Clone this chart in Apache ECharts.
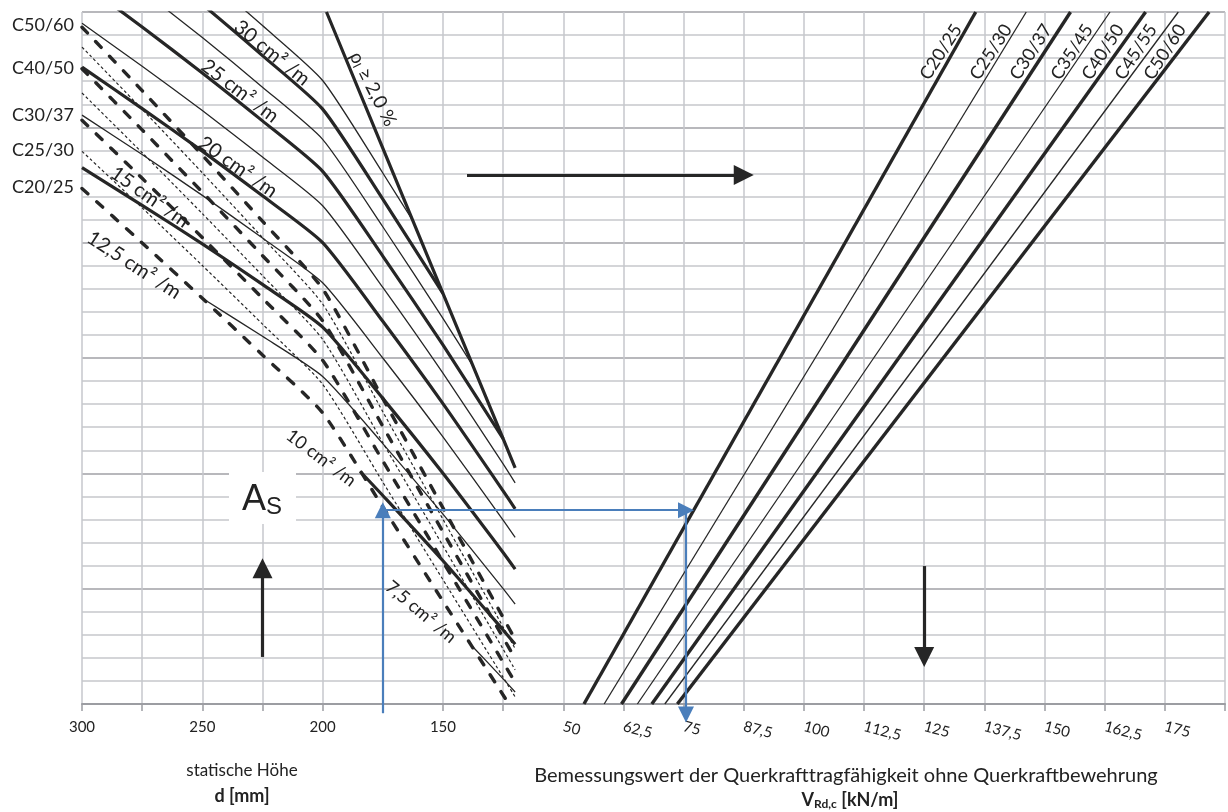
<!DOCTYPE html>
<html><head><meta charset="utf-8">
<script src="https://cdn.jsdelivr.net/npm/echarts@6/dist/echarts.min.js"></script>
<style>html,body{margin:0;padding:0;background:#fff}#c{width:1228px;height:812px}</style>
</head><body><div id="c"></div>
<script>
// ---------- DATA ----------
// left quadrant x: statische Höhe d [mm]; right quadrant x: V_Rd,c [kN/m]
const dTickLabels = [300, 250, 200, 150];
const vTickLabels = [50, 62.5, 75, 87.5, 100, 112.5, 125, 137.5, 150, 162.5, 175];
// concrete classes (right quadrant lines) and their V at bottom / top of the chart
const classes  = ['C20/25', 'C25/30', 'C30/37', 'C35/45', 'C40/50', 'C45/55', 'C50/60'];
const vBottom  = [54.3, 58.5, 62.1, 65.4, 68.4, 71.1, 73.7];
const vTop     = [135.7, 146.2, 155.4, 163.6, 171.0, 177.8, 184.2];
// minimum-shear curves (dashed) in the left quadrant, sampled at dGrid
const dGrid    = [300, 275, 250, 225, 200, 175, 150, 125, 120];
const vminC20  = [423.5, 399.9, 375.9, 351.3, 326.2, 285.4, 244.6, 203.9, 195.7];
const vminC25  = [439.6, 415.1, 390.1, 364.7, 338.6, 296.2, 253.9, 211.6, 203.1];
const vminC30  = [453.1, 427.9, 402.2, 375.9, 349.0, 305.4, 261.7, 218.1, 209.4];
const vminC35  = [464.9, 439.0, 412.6, 385.7, 358.1, 313.3, 268.6, 223.8, 214.8];
const vminC40  = [475.4, 448.9, 421.9, 394.4, 366.1, 320.4, 274.6, 228.8, 219.7];
const vminC45  = [484.8, 457.8, 430.3, 402.2, 373.4, 326.7, 280.1, 233.4, 224.0];
const vminC50  = [493.4, 465.9, 437.9, 409.3, 380.0, 332.5, 285.0, 237.5, 228.0];
// reinforcement lines A_s [cm²/m]: [d, y] pairs
const as325 = [[250,516.9],[225,494.1],[200,470.3],[175,430.2],[162.5,409.5]];
const as30  = [[275,524.4],[250,503.3],[225,481.1],[200,457.9],[175,418.9],[150,378.0]];
const as275 = [[275,509.4],[250,488.9],[225,467.4],[200,444.8],[175,406.9],[150,367.2],[137.5,346.5]];
const as25  = [[300,512.8],[275,493.5],[250,473.6],[225,452.8],[200,430.9],[175,394.2],[150,355.7],[125,315.0]];
const as225 = [[300,495.1],[275,476.5],[250,457.3],[225,437.1],[200,416.0],[175,380.6],[150,343.4],[125,304.1],[120,295.9]];
const as20  = [[300,476.1],[275,458.1],[250,439.7],[225,420.3],[200,400.0],[175,365.9],[150,330.2],[125,292.4],[120,284.6]];
const as175 = [[300,455.3],[275,438.2],[250,420.5],[225,402.0],[200,382.6],[175,350.0],[150,315.8],[125,279.7],[120,272.2]];
const as15  = [[300,432.5],[275,416.2],[250,399.5],[225,381.9],[200,363.4],[175,332.5],[150,300.0],[125,265.7],[120,258.5]];
const as125 = [[250,375.9],[225,359.4],[200,342.0],[175,312.9],[150,282.3],[125,250.0],[120,243.3]];
const as10  = [[184.4,300.8],[175,290.4],[150,262.1],[125,232.1],[120,225.9]];
const as75  = [[138.3,225.6],[125,210.9],[120,205.2]];
const rho20 = [[198.4,500],[175,441.0],[150,378.0],[125,315.0],[120,302.4]];
// worked example (blue) and direction arrows
const exampleD = 175, exampleY = 284, exampleV = 75.5;

// ---------- CHART ----------
const INK = '#262626', BLUE = '#4a7ebb';
const FONT = 'Lato, "Noto Sans", sans-serif';
const vminSets = [vminC20, vminC25, vminC30, vminC35, vminC40, vminC45, vminC50];
const asSets = [
  [as325, false], [as30, true], [as275, false], [as25, true], [as225, false], [as20, true],
  [as175, false], [as15, true], [as125, false], [as10, true], [as75, false], [rho20, true]
];
const series = [];
classes.forEach((c, i) => {
  series.push({type:'line', xAxisIndex:1, yAxisIndex:0, showSymbol:false, symbol:'none', silent:true, z:3,
    data:[[vBottom[i],200],[vTop[i],500]],
    lineStyle:{color:INK, width: i % 2 === 0 ? 3.4 : 1.3}});
});
vminSets.forEach((arr, i) => {
  const thick = i % 2 === 0;
  series.push({type:'line', xAxisIndex:0, yAxisIndex:0, showSymbol:false, symbol:'none', silent:true, z:3, smooth:0.2,
    data: dGrid.map((d, j) => [d, arr[j]]),
    lineStyle:{color:INK, width: thick ? 3.4 : 1.2, type: thick ? [8, 12] : [3, 2.5], cap: thick ? 'round' : 'butt'}});
});
asSets.forEach(([pts, thick], k) => {
  series.push({type:'line', xAxisIndex:0, yAxisIndex:0, showSymbol:false, symbol:'none', silent:true, z:4,
    smooth: k === asSets.length - 1 ? false : 0.2,
    data: pts, lineStyle:{color:INK, width: thick ? 3.2 : 1.3}});
});
// blue worked example
series.push({type:'lines', coordinateSystem:'cartesian2d', xAxisIndex:1, yAxisIndex:0, silent:true, clip:false, z:6,
  symbol:['none','triangle'], symbolSize:[12,16],
  lineStyle:{color:BLUE, width:2.2, opacity:1, curveness:0},
  data:[{coords:[[12.5,196],[12.5,exampleY]]},{coords:[[12.5,exampleY],[exampleV,exampleY]]},{coords:[[exampleV,exampleY],[exampleV,195.5]]}]});
// black direction arrows
series.push({type:'lines', coordinateSystem:'cartesian2d', xAxisIndex:1, yAxisIndex:0, silent:true, clip:false, z:6,
  symbol:['none','triangle'], symbolSize:[16,20],
  lineStyle:{color:INK, width:3.2, opacity:1, curveness:0},
  data:[{coords:[[30,429.3],[87.5,429.3]]},{coords:[[125,259.8],[125,220.4]]}]});
series.push({type:'lines', coordinateSystem:'cartesian2d', xAxisIndex:0, yAxisIndex:0, silent:true, clip:false, z:6,
  symbol:['none','triangle'], symbolSize:[16,20],
  lineStyle:{color:INK, width:3.2, opacity:1, curveness:0},
  data:[{coords:[[225,220.4],[225,258.9]]}]});

function txt(text, x, y, size, rot, align, weight) {
  return {type:'text', x:x, y:y, rotation:rot || 0, z:100,
    style:{text:text, font: (weight ? weight + ' ' : '') + size + 'px ' + FONT, fill:'#222',
      align: align || 'center', verticalAlign:'middle', textAlign: align || 'center', textVerticalAlign:'middle'}};
}
const DEG = Math.PI / 180;
const graphics = [
  // concrete class labels on the left edge
  txt('C50/60', 74, 25, 18, 0, 'right'), txt('C40/50', 74, 68, 18, 0, 'right'), txt('C30/37', 74, 115, 18, 0, 'right'),
  txt('C25/30', 74, 150, 18, 0, 'right'), txt('C20/25', 74, 187, 18, 0, 'right'),
  // class labels along right lines
  txt('C20/25', 941, 52, 18, 57*DEG), txt('C25/30', 991, 52, 18, 57*DEG), txt('C30/37', 1031, 52, 18, 57*DEG),
  txt('C35/45', 1072, 52, 18, 57*DEG), txt('C40/50', 1103, 52, 18, 57*DEG), txt('C45/55', 1136, 52, 18, 57*DEG),
  txt('C50/60', 1165, 52, 18, 57*DEG),
  // reinforcement labels
  txt('30 cm² /m', 272, 53, 20, -39*DEG), txt('25 cm² /m', 240, 91, 20, -37*DEG),
  txt('20 cm² /m', 238, 167, 20, -35*DEG), txt('15 cm² /m', 150, 197, 20, -35*DEG),
  txt('12,5 cm² /m', 134, 265, 20, -33*DEG), txt('10 cm² /m', 321, 458, 18, -37*DEG),
  txt('7,5 cm² /m', 421, 612, 18, -40*DEG),
  {type:'text', x:373, y:89, rotation:-63*DEG, z:100, style:{text:'ρ{s|l} ≥ 2,0 %', font:'19px '+FONT, fill:'#222', align:'center', verticalAlign:'middle', textAlign:'center', textVerticalAlign:'middle', rich:{s:{font:'12px '+FONT, fill:'#222', padding:[8,0,0,0]}}}},
  // A_s box
  {type:'rect', shape:{x:229, y:472, width:67, height:52}, style:{fill:'#fff'}, z:50},
  {type:'text', x:262, y:500, z:100, style:{text:'A{s|S}', font:'36px "Liberation Sans", Arial, sans-serif', fill:'#222', align:'center', verticalAlign:'middle', textAlign:'center', textVerticalAlign:'middle', rich:{s:{font:'24px "Liberation Sans", Arial, sans-serif', fill:'#222', padding:[14,0,0,0]}}}},
  // axis titles
  txt('statische Höhe', 242, 771, 17),
  txt('d [mm]', 242, 796, 18, 0, 'center', 'bold'),
  txt('Bemessungswert der Querkrafttragfähigkeit ohne Querkraftbewehrung', 846, 776, 20),
  {type:'text', x:850, y:800, z:100, style:{text:'V{s|Rd,c} [kN/m]', font:'bold 18px '+FONT, fill:'#222', align:'center', verticalAlign:'middle', textAlign:'center', textVerticalAlign:'middle', rich:{s:{font:'bold 12px '+FONT, fill:'#222', padding:[8,0,0,0]}}}}
];

const chart = echarts.init(document.getElementById('c'), null, {renderer:'canvas'});
chart.setOption({
  animation:false,
  backgroundColor:'#ffffff',
  grid:{left:82, right:0, top:12, bottom:108, containLabel:false},
  xAxis:[
    {type:'value', inverse:true, min:-175, max:300, interval:25, position:'bottom',
     axisLine:{show:true, onZero:false, lineStyle:{color:'#9c9da2', width:2}},
     axisTick:{show:true, length:7, lineStyle:{color:'#9c9da2', width:1.5}},
     axisLabel:{show:true, interval:0, hideOverlap:false, margin:16, color:'#222', fontSize:15, fontFamily:FONT,
       formatter:v => dTickLabels.includes(v) ? String(v) : ''},
     splitLine:{show:true, lineStyle:{color:'#c6c7cc', width:1.5}}},
    {type:'value', min:-50, max:187.5, interval:12.5, position:'bottom',
     axisLine:{show:false}, axisTick:{show:false}, splitLine:{show:false},
     axisLabel:{show:true, interval:0, hideOverlap:false, margin:22, rotate:-15, color:'#222', fontSize:15, fontFamily:FONT,
       formatter:v => vTickLabels.includes(v) ? String(v).replace('.', ',') : ''}}
  ],
  yAxis:[{type:'value', min:200, max:500, interval:50,
    axisLine:{show:false}, axisTick:{show:false}, axisLabel:{show:false},
    splitLine:{show:true, lineStyle:{color:'#a0a1a6', width:1.5}},
    minorTick:{show:false, splitNumber:5},
    minorSplitLine:{show:true, lineStyle:{color:'#c6c7cc', width:1.5}}}],
  series: series,
  graphic: graphics
});
</script></body></html>
